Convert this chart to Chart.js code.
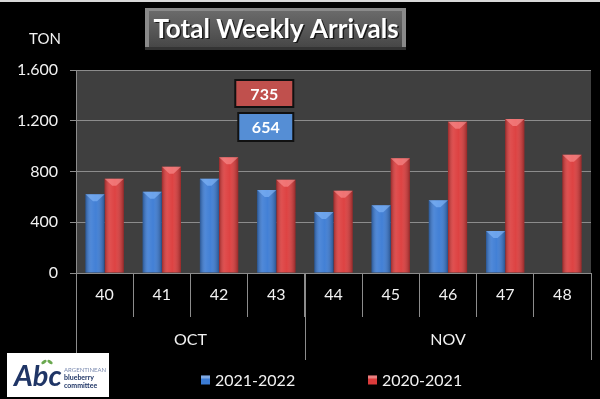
<!DOCTYPE html>
<html>
<head>
<meta charset="utf-8">
<script src="https://cdn.jsdelivr.net/npm/chart.js@4.4.1/dist/chart.umd.min.js"></script>
<style>
  html, body { margin: 0; padding: 0; background: #000; }
  canvas { display: block; }
</style>
</head>
<body>
<canvas id="arrivalsChart" width="600" height="399"></canvas>
<script>
// data
const weeks = ['40', '41', '42', '43', '44', '45', '46', '47', '48'];
const weekMonths = ['OCT', 'OCT', 'OCT', 'OCT', 'NOV', 'NOV', 'NOV', 'NOV', 'NOV'];
const season2122 = [620, 641, 743, 654, 481, 534, 573, 331, null];
const season2021 = [743, 838, 912, 735, 649, 904, 1193, 1214, 932];
const yTicks = [0, 400, 800, 1200, 1600];
const labelWeek = 3; // week 43 gets the boxed value labels

const FONT = 'Lato, "Open Sans", sans-serif';

function fmt(v) {
    return String(v).replace(/\B(?=(\d{3})+(?!\d))/g, '.');
}

// chart area fill, behind grid
const background = {
    id: 'background',
    beforeDraw(chart) {
        const ctx = chart.ctx;
        const a = chart.chartArea;
        ctx.save();
        ctx.fillStyle = '#000';
        ctx.fillRect(0, 0, chart.width, chart.height);
        ctx.fillStyle = '#d8d8d8';
        ctx.fillRect(0, 0, chart.width, 2);
        ctx.fillStyle = '#3f3f3f';
        ctx.fillRect(a.left, a.top, a.right - a.left, a.bottom - a.top);
        ctx.restore();
    }
};

// cylinder-ish shading on top of each bar
const barShade = {
    id: 'barShade',
    afterDatasetsDraw(chart) {
        const ctx = chart.ctx;
        const tops = ['#8cc0ff', '#ff9a9a'];
        chart.data.datasets.forEach((ds, di) => {
            chart.getDatasetMeta(di).data.forEach((bar, i) => {
                if (ds.data[i] == null) return;
                const p = bar.getProps(['x', 'y', 'base', 'width'], true);
                const l = p.x - p.width / 2, r = p.x + p.width / 2;
                ctx.save();
                const g = ctx.createLinearGradient(l, 0, r, 0);
                g.addColorStop(0, 'rgba(0,0,0,0.30)');
                g.addColorStop(0.3, 'rgba(255,255,255,0.10)');
                g.addColorStop(0.55, 'rgba(255,255,255,0.04)');
                g.addColorStop(1, 'rgba(0,0,0,0.32)');
                ctx.fillStyle = g;
                ctx.fillRect(l, p.y, p.width, p.base - p.y);
                ctx.beginPath();
                ctx.moveTo(l, p.y);
                ctx.lineTo(r, p.y);
                ctx.lineTo(p.x + 2, p.y + 7);
                ctx.lineTo(p.x - 2, p.y + 7);
                ctx.closePath();
                ctx.globalAlpha = 0.55;
                ctx.fillStyle = tops[di];
                ctx.fill();
                ctx.restore();
            });
        });
    }
};

const decor = {
    id: 'decor',
    afterDraw(chart) {
        const ctx = chart.ctx;
        const x = chart.scales.x;
        const a = chart.chartArea;
        ctx.save();

        // title box
        ctx.fillStyle = '#8a8a8a';
        ctx.fillRect(145, 8, 261, 42);
        const tg = ctx.createLinearGradient(0, 11, 0, 47);
        tg.addColorStop(0, '#6a6a6a');
        tg.addColorStop(1, '#474747');
        ctx.fillStyle = tg;
        ctx.fillRect(149, 11, 253, 36);
        ctx.fillStyle = '#333';
        ctx.fillRect(145, 47, 261, 3);
        let size = 27;
        ctx.font = 'bold ' + size + 'px ' + FONT;
        while (ctx.measureText('Total Weekly Arrivals').width > 246 && size > 10) {
            size -= 0.5;
            ctx.font = 'bold ' + size + 'px ' + FONT;
        }
        ctx.textAlign = 'center';
        ctx.textBaseline = 'middle';
        ctx.fillStyle = 'rgba(0,0,0,0.7)';
        ctx.fillText('Total Weekly Arrivals', 277.5, 31);
        ctx.fillStyle = '#fff';
        ctx.fillText('Total Weekly Arrivals', 276, 29.5);

        // unit
        ctx.font = '15px ' + FONT;
        ctx.fillStyle = '#f2f2f2';
        ctx.fillText('TON', 45, 39);

        // month groups
        const half = (x.getPixelForValue(1) - x.getPixelForValue(0)) / 2;
        ctx.strokeStyle = '#8c8c8c';
        ctx.lineWidth = 1;
        ctx.font = '16px ' + FONT;
        let start = 0;
        for (let i = 1; i <= weeks.length; i++) {
            if (i === weeks.length || weekMonths[i] !== weekMonths[start]) {
                const l = x.getPixelForValue(start) - half;
                const r = x.getPixelForValue(i - 1) + half;
                ctx.fillText(weekMonths[start], (l + r) / 2, 340);
                [l, r].forEach(px => {
                    ctx.beginPath();
                    ctx.moveTo(Math.round(px) + 0.5, a.bottom);
                    ctx.lineTo(Math.round(px) + 0.5, 360);
                    ctx.stroke();
                });
                start = i;
            }
        }

        // boxed values for one week
        const cx = x.getPixelForValue(labelWeek);
        const boxes = [
            [season2021[labelWeek], '#c0504d', cx - 41, a.top + 10, 58, 27],
            [season2122[labelWeek], '#558ed5', cx - 38, a.top + 43, 55, 28]
        ];
        ctx.font = 'bold 16px ' + FONT;
        boxes.forEach(([v, c, bx, by, bw, bh]) => {
            ctx.fillStyle = c;
            ctx.fillRect(bx, by, bw, bh);
            ctx.strokeStyle = '#111';
            ctx.lineWidth = 2;
            ctx.strokeRect(bx, by, bw, bh);
            ctx.fillStyle = '#fff';
            ctx.fillText(fmt(v), bx + bw / 2, by + bh / 2 + 1);
        });

        // legend
        const legendX = [201, 368];
        ctx.textAlign = 'left';
        ctx.font = '16px ' + FONT;
        chart.data.datasets.forEach((ds, i) => {
            const lx = legendX[i];
            ctx.fillStyle = ds.backgroundColor;
            ctx.fillRect(lx, 375.5, 9, 9);
            ctx.fillStyle = 'rgba(255,255,255,0.35)';
            ctx.fillRect(lx, 375.5, 9, 3);
            ctx.fillStyle = '#f2f2f2';
            ctx.fillText(ds.label, lx + 14, 380.5);
        });

        // logo
        ctx.fillStyle = '#fff';
        ctx.fillRect(7, 353, 102, 44);
        ctx.fillStyle = '#1f3566';
        ctx.font = 'italic bold 29px ' + FONT;
        ctx.fillText('Abc', 14, 377);
        ctx.fillStyle = '#6aa84f';
        ctx.beginPath();
        ctx.ellipse(44, 362, 3, 1.6, -0.6, 0, Math.PI * 2);
        ctx.ellipse(50, 362, 3, 1.6, 0.6, 0, Math.PI * 2);
        ctx.fill();
        ctx.fillStyle = '#7b8bb0';
        ctx.font = '6px ' + FONT;
        ctx.fillText('ARGENTINEAN', 64, 370);
        ctx.fillStyle = '#1f3566';
        ctx.font = 'bold 7px ' + FONT;
        ctx.fillText('blueberry', 64, 378);
        ctx.fillText('committee', 64, 386);

        ctx.restore();
    }
};

Chart.defaults.font.family = FONT;

new Chart(document.getElementById('arrivalsChart'), {
    type: 'bar',
    data: {
        labels: weeks,
        datasets: [
            {
                label: '2021-2022',
                data: season2122,
                backgroundColor: '#3b7bd4',
                categoryPercentage: 0.67,
                barPercentage: 1.0
            },
            {
                label: '2020-2021',
                data: season2021,
                backgroundColor: '#dc3b3b',
                categoryPercentage: 0.67,
                barPercentage: 1.0
            }
        ]
    },
    options: {
        responsive: false,
        animation: false,
        devicePixelRatio: 1,
        layout: { padding: { top: 70, left: 10, right: 9, bottom: 0 } },
        scales: {
            x: {
                grid: { drawOnChartArea: false, color: '#8c8c8c', tickLength: 44, offset: true },
                border: { color: '#8c8c8c' },
                ticks: { color: '#f2f2f2', font: { size: 16 }, padding: -32 },
                afterFit: s => { s.height = 126; }
            },
            y: {
                min: 0,
                max: 1600,
                afterBuildTicks: s => { s.ticks = yTicks.map(v => ({ value: v })); },
                grid: { color: '#8c8c8c', tickLength: 6 },
                border: { color: '#8c8c8c' },
                ticks: { color: '#f2f2f2', font: { size: 16 }, padding: 12, callback: v => fmt(v) },
                afterFit: s => { s.width = 66; }
            }
        },
        plugins: {
            legend: { display: false },
            tooltip: { enabled: false }
        }
    },
    plugins: [background, barShade, decor]
});
</script>
</body>
</html>
